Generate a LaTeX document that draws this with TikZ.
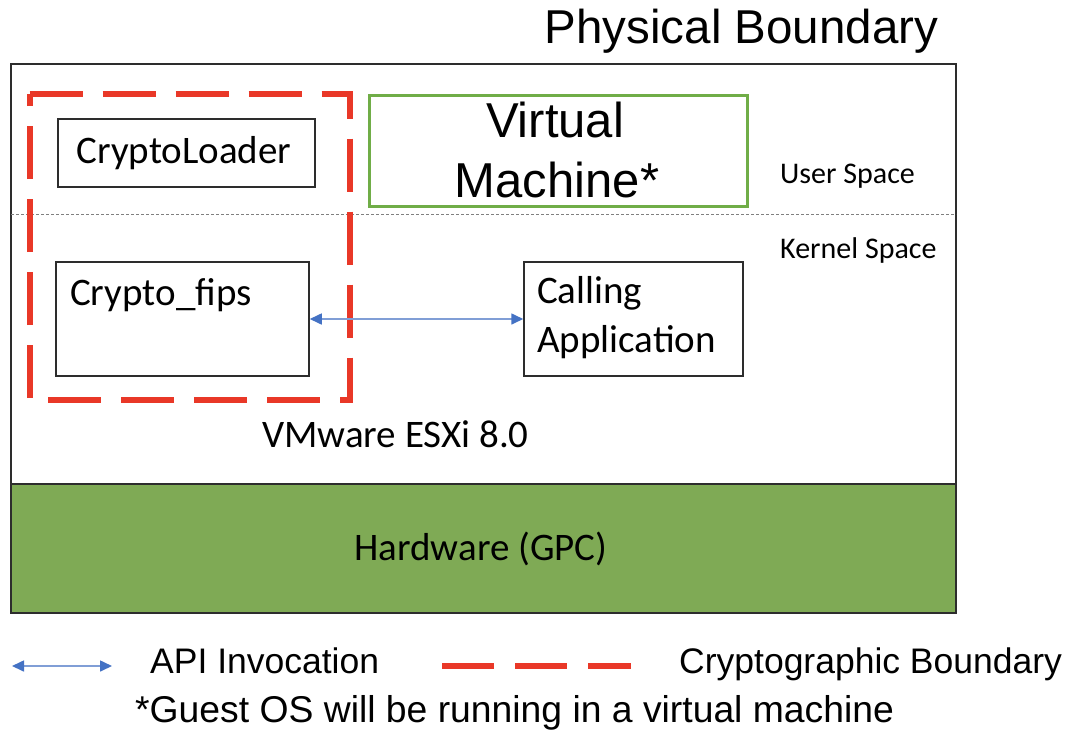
\documentclass[tikz,border=0pt]{standalone}
\usepackage{fontspec}
\setmainfont{Carlito}
\newfontfamily\headfont{Liberation Sans}
\usetikzlibrary{arrows.meta}

\definecolor{hwgreen}{RGB}{127,170,85}
\definecolor{vmgreen}{RGB}{112,173,71}
\definecolor{bndred}{RGB}{233,56,40}
\definecolor{apiblue}{RGB}{68,114,196}
\definecolor{apiline}{RGB}{128,158,214}
\definecolor{edgegray}{RGB}{45,45,45}

\newcommand\boxtxt{\fontsize{39}{47}\selectfont}
\newcommand\spacetxt{\fontsize{30}{36}\selectfont}
\newcommand\titletxt{\headfont\fontsize{47.5}{57}\selectfont}
\newcommand\vmtxt{\headfont\fontsize{49}{59}\selectfont}
\newcommand\legendtxt{\headfont\fontsize{35.5}{43}\selectfont}
\newcommand\notetxt{\headfont\fontsize{37.3}{45}\selectfont}

\tikzset{
  box/.style={draw=edgegray, line width=1.5pt, inner sep=0pt, fill=white},
  vmbox/.style={draw=vmgreen, line width=3pt, inner sep=0pt},
  outerbox/.style={draw=edgegray, line width=2pt, inner sep=0pt},
  hwbox/.style={draw=edgegray, line width=2pt, inner sep=0pt, fill=hwgreen},
  cryptob/.style={draw=bndred, line width=6pt, dash pattern=on 53pt off 20pt},
  divider/.style={draw=gray, line width=1pt, dash pattern=on 3pt off 2pt},
  api/.style={draw=apiline, line width=1.6pt,
    {Triangle[length=12pt,width=11pt,color=apiblue]}-{Triangle[length=12pt,width=11pt,color=apiblue]}},
  txt/.style={inner sep=0pt, anchor=base west},
  ctxt/.style={inner sep=0pt, anchor=base},
}

\begin{document}
\begin{tikzpicture}[x=1pt, y=-1pt]
  \useasboundingbox (0,0) rectangle (1067,736);

  % physical boundary with hardware layer
  \node[outerbox, minimum width=945pt, minimum height=549pt] (phys) at (483.5,338.5) {};
  \node[hwbox, minimum width=945pt, minimum height=129pt] (hw) at (483.5,548.5) {};
  \node[ctxt, font=\boxtxt] (hwlbl) at (481,560) {Hardware (GPC)};
  \node[ctxt, font=\titletxt] (title) at (741.5,43) {Physical Boundary};

  % user / kernel divider
  \coordinate (divL) at (11,214);
  \coordinate (divR) at (956,214);
  \draw[divider] (divL) -- (divR);
  \node[txt, font=\spacetxt] (user) at (780,183) {User Space};
  \node[txt, font=\spacetxt] (kernel) at (780,258) {Kernel Space};

  % module components
  \node[box, minimum width=257pt, minimum height=68pt] (loader) at (186.5,153) {};
  \node[ctxt, font=\boxtxt] (loaderlbl) at (184,163) {CryptoLoader};
  \node[box, minimum width=253pt, minimum height=114pt] (fips) at (182.5,319) {};
  \node[txt, font=\boxtxt] (fipslbl) at (70,305) {Crypto\_fips};

  % cryptographic boundary
  \draw[cryptob] (29.5,94) -- (350,94) -- (350,400) -- (29.5,400) -- cycle;

  % virtual machine
  \node[vmbox, minimum width=378pt, minimum height=111pt] (vm) at (558,150.5) {};
  \node[ctxt, font=\vmtxt] (vmlbl1) at (555,137) {Virtual};
  \node[ctxt, font=\vmtxt] (vmlbl2) at (557,197) {Machine*};

  % calling application
  \node[box, minimum width=219pt, minimum height=114pt] (app) at (633.5,319) {};
  \node[txt, font=\boxtxt] (applbl1) at (537,303) {Calling};
  \node[txt, font=\boxtxt] (applbl2) at (537,352) {Application};

  \draw[api] (fips.east) -- (app.west);

  \node[txt, font=\boxtxt] (esxi) at (262,447) {VMware ESXi 8.0};

  % legend
  \coordinate (legA1) at (12,666);
  \coordinate (legA2) at (112,666);
  \draw[api] (legA1) -- (legA2);
  \node[txt, font=\legendtxt] (legapi) at (150,673) {API Invocation};
  \coordinate (legB1) at (442,666);
  \coordinate (legB2) at (631,666);
  \draw[cryptob, dash pattern=on 52pt off 21pt] (legB1) -- (legB2);
  \node[txt, font=\legendtxt] (legcb) at (679,673) {Cryptographic Boundary};
  \node[txt, font=\notetxt] (note) at (135,722) {*Guest OS will be running in a virtual machine};
\end{tikzpicture}
\end{document}
